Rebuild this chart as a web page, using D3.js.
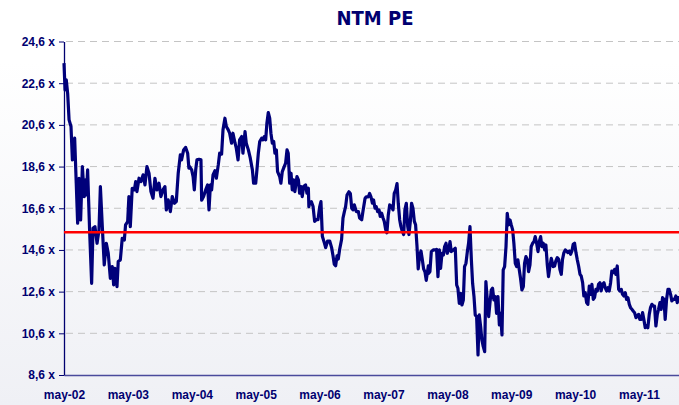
<!DOCTYPE html>
<html>
<head>
<meta charset="utf-8">
<script src="https://cdn.jsdelivr.net/npm/d3@7"></script>
<style>
  body { margin: 0; }
  svg { display: block; }
</style>
</head>
<body>
<div id="chart"></div>
<script>
// NTM PE, weekly-ish readings, May 2002 - end 2011

// data: day offsets from 1 May 2002 and PE multiple on that day
const startDate = new Date(2002, 4, 1)

const dayOffsets = [
  0, 6, 13, 21, 29, 40, 48, 61, 70, 78, 86, 95, 105, 116, 124, 128, 135, 147, 158, 166,
  177, 189, 200, 208, 219, 230, 242, 253, 265, 276, 284, 291, 303, 310, 322, 333, 345, 352, 364, 371,
  379, 390, 402, 410, 417, 429, 440, 452, 463, 474, 486, 497, 509, 520, 531, 543, 554, 566, 577, 585,
  596, 608, 619, 631, 642, 653, 665, 672, 684, 695, 707, 714,
  718, 730, 738, 745, 753, 760, 772, 783, 787, 798, 810, 821, 829, 837, 844, 852, 863, 871, 882, 890,
  901, 909, 920, 928, 939, 947, 958, 966, 978, 985, 995, 1004, 1016, 1023, 1035, 1042, 1054, 1065, 1077, 1084,
  1096, 1103, 1111, 1119, 1130, 1138, 1145, 1153, 1160, 1168, 1176, 1183, 1191, 1199, 1206, 1214, 1221, 1233, 1240, 1248,
  1259, 1267, 1275, 1282, 1290, 1298, 1305, 1313, 1320, 1332, 1340, 1347, 1355, 1362, 1370, 1381, 1389, 1397, 1400,
  1404, 1414, 1424, 1433, 1443, 1452, 1462, 1469, 1477, 1488, 1496, 1507, 1519, 1530, 1538, 1545, 1553, 1561, 1568, 1576,
  1587, 1595, 1603, 1610, 1618, 1629, 1637, 1645, 1652, 1660, 1671, 1683, 1690, 1702, 1709, 1721, 1728, 1740, 1747, 1755,
  1763, 1770, 1778, 1785, 1793, 1801, 1808, 1816, 1824, 1831, 1839, 1846, 1854, 1862, 1873, 1881, 1888, 1896, 1904, 1911,
  1919, 1926, 1934, 1942, 1949, 1957, 1965, 1972, 1980, 1987, 1995, 2003, 2010, 2018, 2025, 2033, 2041, 2048, 2056, 2064,
  2071, 2083,
  2085, 2092, 2100, 2111, 2123, 2130, 2138, 2146, 2153, 2161, 2169, 2176, 2184, 2191, 2199, 2207, 2214, 2226, 2237, 2245,
  2252, 2260, 2268, 2275, 2283, 2290, 2298, 2306, 2313, 2321, 2329, 2336, 2344, 2351, 2359, 2367, 2374, 2382, 2389, 2397,
  2405, 2412, 2420, 2428, 2435, 2443, 2450, 2458, 2466, 2473, 2481, 2489, 2496, 2504, 2511, 2519, 2527, 2534, 2542, 2550,
  2557, 2565, 2572, 2580, 2588, 2595, 2603, 2610, 2618, 2626, 2633, 2641, 2649, 2656, 2664, 2671, 2679, 2687, 2694, 2702,
  2710, 2717, 2725, 2732, 2740, 2748, 2755, 2763, 2770, 2778, 2786, 2797,
  2805, 2812, 2820, 2828, 2835, 2843, 2850, 2858, 2866, 2873, 2881, 2889, 2896, 2904, 2911, 2919, 2927, 2934, 2942, 2950,
  2957, 2965, 2972, 2980, 2988, 2995, 3003, 3011, 3018, 3026, 3033, 3041, 3049, 3056, 3064, 3071, 3079, 3087, 3094, 3102,
  3110, 3117, 3125, 3132, 3140, 3148, 3155, 3163, 3171, 3178, 3186, 3193, 3201, 3209, 3216, 3224, 3232, 3239, 3247, 3254,
  3262, 3270, 3277, 3285, 3292, 3300, 3308, 3315, 3323, 3331, 3338, 3346, 3353, 3361, 3369, 3376, 3384, 3392, 3399, 3407,
  3414, 3422, 3430, 3437, 3445, 3453, 3460, 3468, 3475, 3483, 3491, 3498, 3506, 3514
]

const peValues = [
  23.56, 22.28, 22.76, 22.1, 20.84, 20.52, 18.92, 19.96, 17.8, 15.88, 18.04, 16.04, 18.6, 17.16, 17.96, 17.24, 18.44, 15.4, 13.0, 15.64,
  15.72, 14.92, 15.56, 17.64, 15.72, 13.88, 14.92, 14.44, 13.24, 13.8, 12.92, 13.72, 12.84, 14.04, 14.12, 15.16, 15.08, 15.8, 15.96, 17.16,
  15.72, 17.56, 17.48, 17.88, 17.4, 18.04, 17.88, 18.2, 17.72, 18.6, 18.28, 17.4, 17.08, 18.04, 17.48, 17.8, 17.16, 17.48, 17.64, 16.52,
  17.0, 16.44, 17.16, 16.84, 16.92, 18.28, 19.16, 18.92, 19.4, 19.52, 19.24, 18.52,
  18.6, 18.44, 18.12, 17.48, 18.44, 18.92, 18.95, 18.92, 16.99, 17.16, 17.48, 17.72, 16.52, 17.72, 17.48, 18.2, 18.4, 18.04, 18.68, 19.24,
  19.2, 20.36, 20.92, 20.52, 20.36, 20.2, 19.72, 20.2, 19.72, 19.48, 18.92, 19.88, 20.04, 19.24, 20.28, 19.72, 19.4, 19.0, 18.44, 17.8,
  17.8, 18.44, 19.24, 19.8, 19.96, 19.88, 20.04, 19.88, 20.68, 21.19, 20.92, 20.2, 19.72, 19.8, 19.24, 19.4, 18.36, 18.12, 17.8, 18.36,
  18.6, 18.76, 19.4, 19.24, 17.8, 18.28, 17.48, 17.96, 17.4, 18.12, 17.96, 17.32, 17.64, 17.16, 17.64, 17.72, 17.32, 17.56, 16.68,
  16.84, 16.92, 16.68, 15.97, 16.05, 16.05, 16.68, 16.92, 15.26, 14.95, 14.71, 15.03, 15.03, 14.71, 14.32, 13.92, 13.84, 14.32, 14.16, 14.63,
  15.1, 16.13, 16.44, 16.68, 17.23, 17.39, 17.31, 16.6, 16.52, 16.76, 16.44, 16.44, 16.13, 16.05, 16.44, 17.07, 17.15, 17.15, 17.31, 17.15,
  16.84, 17.0, 16.6, 16.68, 16.44, 16.52, 16.21, 16.36, 16.13, 15.97, 15.58, 15.42, 16.28, 16.76, 16.68, 16.52, 17.31, 17.47, 17.78, 16.84,
  16.05, 15.73, 15.5, 15.34, 16.52, 16.84, 15.73, 15.34, 15.97, 16.84, 16.6, 15.97, 15.81, 14.79, 13.69, 14.32, 14.55, 14.16, 13.69, 13.53,
  13.14, 13.84,
  13.48, 13.56, 14.52, 14.6, 14.6, 14.63, 13.32, 14.6, 13.72, 14.44, 14.36, 14.76, 14.92, 14.44, 14.6, 15.0, 14.52, 14.6, 14.68, 12.92,
  12.76, 12.04, 12.52, 11.96, 12.2, 13.8, 13.96, 14.52, 14.92, 15.72, 14.12, 13.0, 12.36, 11.48, 11.4, 9.56, 11.48, 10.92, 10.28, 9.96,
  9.72, 13.08, 12.2, 11.4, 12.04, 12.68, 12.76, 12.2, 12.36, 11.56, 12.36, 11.0, 11.56, 10.52, 13.64, 13.8, 14.76, 16.36, 15.8, 16.04,
  15.8, 15.56, 14.92, 13.96, 13.8, 14.12, 13.64, 13.24, 12.68, 12.84, 13.96, 14.28, 14.12, 13.56, 13.88, 14.76, 14.92, 15.0, 15.24, 14.92,
  14.52, 15.0, 15.24, 14.76, 14.92, 14.6, 14.84, 13.88, 13.32, 13.8, 14.2, 13.8,
  13.83, 14.07, 14.23, 14.15, 13.67, 13.43, 14.15, 14.47, 14.6, 14.55, 14.47, 14.55, 14.39, 14.55, 14.87, 14.92, 14.47, 14.15, 13.83, 13.43,
  13.35, 13.03, 12.39, 12.55, 12.07, 11.99, 12.87, 12.47, 12.95, 12.23, 12.31, 12.71, 12.63, 12.95, 13.03, 12.63, 12.95, 13.03, 12.79, 12.63,
  12.79, 12.63, 13.03, 13.59, 13.51, 13.67, 13.43, 13.83, 12.71, 12.63, 12.71, 12.47, 12.39, 12.55, 12.23, 12.31, 11.99, 11.83, 11.75, 11.67,
  11.59, 11.35, 11.43, 11.51, 11.27, 11.27, 11.59, 11.27, 10.87, 10.95, 10.87, 11.51, 11.83, 11.99, 11.91, 11.91, 10.95, 11.51, 11.75, 12.07,
  11.75, 12.31, 12.23, 11.27, 12.23, 12.71, 12.71, 12.47, 12.15, 12.23, 12.23, 12.39, 12.07, 12.39
]

// long-run average (red line)
const averagePE = 15.45

// axis ticks
const yTicks = [8.6, 10.6, 12.6, 14.6, 16.6, 18.6, 20.6, 22.6, 24.6]
const tickYears = [2002, 2003, 2004, 2005, 2006, 2007, 2008, 2009, 2010, 2011]
const tickLabels = ["may-02", "may-03", "may-04", "may-05", "may-06", "may-07", "may-08", "may-09", "may-10", "may-11"]

const chartTitle = "NTM PE"

const data = dayOffsets.map((d, i) => ({ date: d3.timeDay.offset(startDate, d), pe: peValues[i] }))

const width = 679,
      height = 405,
      margin = ({ top: 41.5, right: 0, bottom: 30, left: 64 })

const navy = "#000070"
const font = "'DejaVu Sans Condensed', 'DejaVu Sans', sans-serif"

let svg = d3.select("#chart")
    .append("svg")
    .attr("width", width)
    .attr("height", height)
    .style("font-family", font)
    .style("font-stretch", "condensed")

// soft background gradient
let grad = svg.append("defs").append("linearGradient")
    .attr("id", "bg")
    .attr("x1", 0).attr("y1", 0).attr("x2", 0).attr("y2", 1)
grad.append("stop").attr("offset", "0%").attr("stop-color", "#ffffff")
grad.append("stop").attr("offset", "15%").attr("stop-color", "#ffffff")
grad.append("stop").attr("offset", "100%").attr("stop-color", "#eff0f5")

svg.append("rect")
    .attr("width", width)
    .attr("height", height)
    .attr("fill", "url(#bg)")

// scales
let x = d3.scaleTime()
    .domain([startDate, d3.timeDay.offset(startDate, 3516)])
    .range([margin.left, width - margin.right])

let y = d3.scaleLinear()
    .domain([8.6, 24.6])
    .range([height - margin.bottom, margin.top])

// dashed gridlines
svg.append("g")
    .selectAll("line")
    .data(yTicks.slice(1))
    .join("line")
    .attr("x1", margin.left + 2)
    .attr("x2", width)
    .attr("y1", d => y(d))
    .attr("y2", d => y(d))
    .attr("stroke", "#c4c4c4")
    .attr("stroke-width", 1)
    .attr("stroke-dasharray", "7,5")

// x axis
let xAxis = svg.append("g")
    .attr("transform", `translate(0,${y(8.6)})`)
    .call(d3.axisBottom(x)
        .tickValues(tickYears.map(yr => new Date(yr, 4, 1)))
        .tickFormat((d, i) => tickLabels[i])
        .tickSize(0)
        .tickPadding(15))
xAxis.select(".domain").attr("stroke", "#4a4a9c").attr("stroke-width", 1.3)
xAxis.selectAll("text")
    .attr("fill", navy)
    .style("font-size", "12px")
    .style("font-weight", "bold")

// y axis
let yAxis = svg.append("g")
    .attr("transform", `translate(${margin.left},0)`)
    .call(d3.axisLeft(y)
        .tickValues(yTicks)
        .tickFormat(d => d3.format(".1f")(d).replace(".", ",") + " x")
        .tickSize(5)
        .tickSizeOuter(0)
        .tickPadding(4))
yAxis.select(".domain").attr("stroke", navy).attr("stroke-width", 1.3)
yAxis.selectAll(".tick line").attr("stroke", navy)
yAxis.selectAll("text")
    .attr("fill", navy)
    .style("font-size", "12px")
    .style("font-weight", "bold")

// PE line
let line = d3.line()
    .x(d => x(d.date))
    .y(d => y(d.pe))

svg.append("path")
    .datum(data)
    .attr("fill", "none")
    .attr("stroke", "#00007a")
    .attr("stroke-width", 3.2)
    .attr("stroke-linejoin", "round")
    .attr("d", line)

// average line
svg.append("line")
    .attr("x1", margin.left)
    .attr("x2", width)
    .attr("y1", y(averagePE))
    .attr("y2", y(averagePE))
    .attr("stroke", "#ff0000")
    .attr("stroke-width", 2.6)

// title
svg.append("text")
    .attr("x", 375)
    .attr("y", 25)
    .attr("text-anchor", "middle")
    .attr("fill", navy)
    .style("font-size", "20px")
    .style("font-weight", "bold")
    .text(chartTitle)
</script>
</body>
</html>
